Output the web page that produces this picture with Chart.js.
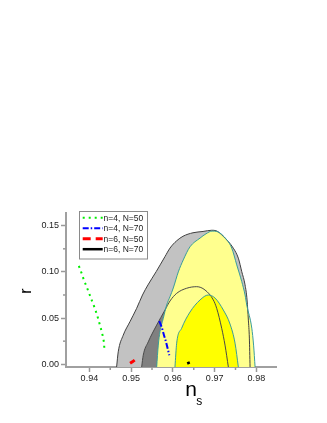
<!DOCTYPE html>
<html><head><meta charset="utf-8">
<script src="https://cdn.jsdelivr.net/npm/chart.js@4/dist/chart.umd.min.js"></script>
<style>html,body{margin:0;padding:0;background:#fff}canvas{display:block}</style>
</head><body>
<canvas id="c" width="327" height="423"></canvas>
<script>
// ---- data ----
const xTicks = [0.94, 0.95, 0.96, 0.97, 0.98];
const yTicks = [0.00, 0.05, 0.10, 0.15];
const xMinor = [0.945, 0.955, 0.965, 0.975];
const yMinor = [0.025, 0.075, 0.125];
const seriesLabels = ['n=4, N=50', 'n=4, N=70', 'n=6, N=50', 'n=6, N=70'];
const xTitle = ['n', 's'];
const yTitle = 'r';

// model predictions (ns, r)
const n4N50 = [[0.93748,0.1065],[0.93813,0.0986],[0.93868,0.0913],[0.93933,0.0840],[0.93995,0.0768],[0.94053,0.0696],[0.94132,0.0605],[0.94197,0.0514],[0.94252,0.0424],[0.94307,0.0334],[0.94348,0.0242],[0.94360,0.0160]];
const n4N70 = [[0.95674,0.0467],[0.95731,0.0405],[0.95787,0.0315],[0.95835,0.0242],[0.95875,0.0171],[0.95914,0.0098]];
const n6N50 = [[0.94975,0.0010],[0.95030,0.0026],[0.95085,0.0045]];
const n6N70 = [[0.96343,0.0008],[0.96405,0.0020]];

// observational contours (ns, r) boundary
const grayOuter95 = [[0.94652,-0.003],[0.94691,0.0134],[0.94811,0.0315],[0.94971,0.0460],[0.95132,0.0605],[0.95272,0.0750],[0.95403,0.0859],[0.95600,0.1003],[0.95811,0.1166],[0.95931,0.1258],[0.96091,0.1337],[0.96242,0.1386],[0.96482,0.1424],[0.96722,0.1438],[0.96930,0.1451],[0.97034,0.1446],[0.97209,0.1384],[0.97448,0.1257],[0.97568,0.1149],[0.97650,0.1003],[0.97729,0.0859],[0.97777,0.0696],[0.97808,0.0478],[0.97832,0.0283],[0.97849,-0.003]];
const grayInner68 = [[0.95252,-0.003],[0.95290,0.0098],[0.95410,0.0242],[0.95612,0.0424],[0.95811,0.0587],[0.95931,0.0685],[0.96091,0.0768],[0.96331,0.0823],[0.96571,0.0840],[0.96770,0.0804],[0.96969,0.0696],[0.97050,0.0605],[0.97170,0.0388],[0.97249,0.0207],[0.97329,-0.003]];
const yellowOuter95 = [[0.95612,-0.003],[0.95650,0.0207],[0.95691,0.0351],[0.95770,0.0497],[0.95851,0.0641],[0.95931,0.0732],[0.96010,0.0826],[0.96130,0.1000],[0.96249,0.1130],[0.96410,0.1272],[0.96650,0.1366],[0.96794,0.1413],[0.96938,0.1442],[0.97050,0.1438],[0.97290,0.1348],[0.97410,0.1258],[0.97530,0.1076],[0.97650,0.0895],[0.97729,0.0750],[0.97770,0.0641],[0.97890,0.0391],[0.97933,0.0207],[0.97969,-0.003]];
const yellowInner68 = [[0.96050,-0.003],[0.96091,0.0228],[0.96211,0.0391],[0.96410,0.0565],[0.96650,0.0696],[0.96849,0.0750],[0.97010,0.0717],[0.97209,0.0587],[0.97369,0.0435],[0.97489,0.0228],[0.97568,-0.003]];

const FONT = "'Liberation Sans', Arial, Helvetica, sans-serif";
const toXY = arr => arr.map(p => ({x: p[0], y: p[1]}));

const base = {showLine: true, pointRadius: 0, pointHoverRadius: 0, fill: false};
const contour = {cubicInterpolationMode: 'monotone', borderWidth: 1, fill: 'start'};

const datasets = [
  Object.assign({}, base, {label: seriesLabels[0], data: toXY(n4N50), borderColor: '#00ee00', borderWidth: 2, borderDash: [2, 4], inLegend: true}),
  Object.assign({}, base, {label: seriesLabels[1], data: toXY(n4N70), borderColor: '#0000ff', borderWidth: 2, borderDash: [6, 2, 1.5, 2], inLegend: true}),
  Object.assign({}, base, {label: seriesLabels[2], data: toXY(n6N50), borderColor: '#ff0000', borderWidth: 3, borderDash: [8, 5], inLegend: true}),
  Object.assign({}, base, {label: seriesLabels[3], data: toXY(n6N70), borderColor: '#000000', borderWidth: 2.5, inLegend: true}),
  Object.assign({}, base, contour, {label: 'B 68%', data: toXY(yellowInner68), borderColor: '#3a9c9c', backgroundColor: '#ffff00'}),
  Object.assign({}, base, contour, {label: 'B 95%', data: toXY(yellowOuter95), borderColor: '#3a9c9c', backgroundColor: '#ffff8e'}),
  Object.assign({}, base, contour, {label: 'A 68%', data: toXY(grayInner68), borderColor: '#4a4a4a', backgroundColor: '#808080'}),
  Object.assign({}, base, contour, {label: 'A 95%', data: toXY(grayOuter95), borderColor: '#404040', backgroundColor: '#c2c2c2'})
];

const decor = {
  id: 'decor',
  afterDraw(chart) {
    const {ctx, chartArea: a} = chart;
    const xs = chart.scales.x, ys = chart.scales.y;
    ctx.save();
    // minor ticks
    ctx.strokeStyle = '#999';
    ctx.lineWidth = 1.5;
    xMinor.forEach(v => { const px = xs.getPixelForValue(v); ctx.beginPath(); ctx.moveTo(px, a.bottom); ctx.lineTo(px, a.bottom + 3); ctx.stroke(); });
    yMinor.forEach(v => { const py = ys.getPixelForValue(v); ctx.beginPath(); ctx.moveTo(a.left, py); ctx.lineTo(a.left - 3, py); ctx.stroke(); });
    // axis titles
    ctx.fillStyle = '#000';
    ctx.textAlign = 'left';
    ctx.textBaseline = 'alphabetic';
    ctx.font = '21px ' + FONT;
    ctx.fillText(xTitle[0], 185.2, 395.5);
    ctx.font = '12px ' + FONT;
    ctx.fillText(xTitle[1], 196.3, 404.7);
    ctx.save();
    ctx.translate(26.8, 291);
    ctx.rotate(-Math.PI / 2);
    ctx.textAlign = 'center';
    ctx.textBaseline = 'middle';
    ctx.font = '16px ' + FONT;
    ctx.fillText(yTitle, 0, 0);
    ctx.restore();
    // legend
    const lx = 79.5, ly = 211.5, lw = 68, lh = 47.5;
    ctx.fillStyle = '#fff';
    ctx.fillRect(lx, ly, lw, lh);
    ctx.strokeStyle = '#8a8a8a';
    ctx.lineWidth = 1;
    ctx.setLineDash([]);
    ctx.strokeRect(lx, ly, lw, lh);
    const items = chart.data.datasets.filter(d => d.inLegend);
    ctx.font = '8.5px ' + FONT;
    ctx.textBaseline = 'middle';
    ctx.textAlign = 'left';
    items.forEach((d, i) => {
      const yy = 217.7 + i * 10.5;
      ctx.strokeStyle = d.borderColor;
      ctx.lineWidth = d.borderWidth;
      ctx.setLineDash(d.borderDash || []);
      ctx.beginPath(); ctx.moveTo(82.7, yy); ctx.lineTo(102.7, yy); ctx.stroke();
      ctx.setLineDash([]);
      ctx.fillStyle = '#1a1a1a';
      ctx.fillText(d.label, 103.5, yy + 0.5);
    });
    ctx.restore();
  }
};

new Chart(document.getElementById('c'), {
  type: 'scatter',
  data: {datasets},
  plugins: [decor],
  options: {
    responsive: false,
    animation: false,
    devicePixelRatio: 1,
    layout: {padding: {left: 0, right: 51, top: 213, bottom: 0}},
    plugins: {
      legend: {display: false},
      tooltip: {enabled: false},
      filler: {drawTime: 'beforeDatasetsDraw'}
    },
    scales: {
      x: {
        type: 'linear', min: 0.9344, max: 0.9847,
        afterBuildTicks: s => { s.ticks = xTicks.map(v => ({value: v})); },
        afterFit: s => { s.height = 56; },
        grid: {drawOnChartArea: false, drawTicks: true, tickLength: 5, tickColor: '#999', tickWidth: 1.5},
        border: {display: true, color: '#a0a0a0', width: 2},
        ticks: {font: {family: FONT, size: 9}, color: '#222', padding: 1, maxRotation: 0, autoSkip: false, callback: v => Number(v).toFixed(2)}
      },
      y: {
        type: 'linear', min: -0.003, max: 0.1638,
        afterBuildTicks: s => { s.ticks = yTicks.map(v => ({value: v})); },
        afterFit: s => { s.width = 66; },
        grid: {drawOnChartArea: false, drawTicks: true, tickLength: 5, tickColor: '#999', tickWidth: 1.5},
        border: {display: true, color: '#a0a0a0', width: 2},
        ticks: {font: {family: FONT, size: 9}, color: '#222', padding: 2, autoSkip: false, callback: v => Number(v).toFixed(2)}
      }
    }
  }
});
</script>
</body></html>
